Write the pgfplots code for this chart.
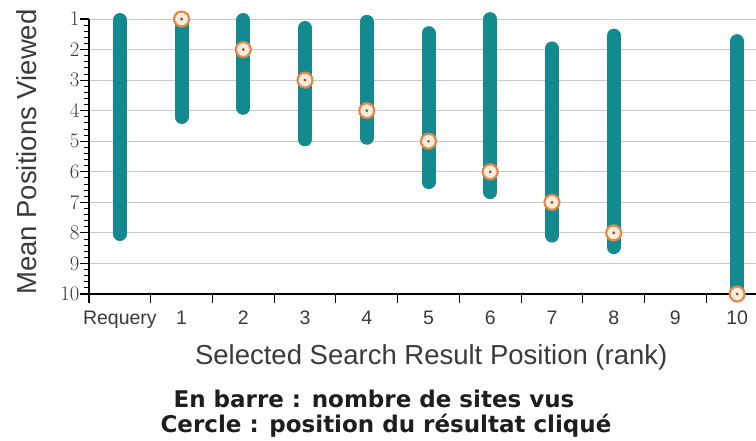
\documentclass[border=0pt]{standalone}
\usepackage{pgfplots}
\pgfplotsset{compat=1.18}
\usepackage{fontspec}
\setmainfont{Liberation Sans}
\newfontfamily\capfont{DejaVu Sans}
\definecolor{barteal}{HTML}{138A8F}
\definecolor{circedge}{HTML}{E0894A}
\definecolor{circfill}{HTML}{FBEBDC}
\definecolor{gridgray}{HTML}{C8C8C8}
\definecolor{labelgray}{HTML}{3A3A3A}
\definecolor{captext}{HTML}{1E1E1E}
\begin{document}
\begin{tikzpicture}
\useasboundingbox (-89pt,-146pt) rectangle (667pt,294pt);
\begin{axis}[
  at={(0,0)}, anchor=south west,
  scale only axis, width=679pt, height=275pt,
  xmin=-0.5, xmax=10.5, ymin=1, ymax=10,
  y dir=reverse, clip=false,
  axis x line*=bottom, axis y line*=left,
  axis line style={black, line width=1.3pt},
  tick align=outside, major tick length=9pt, minor tick length=5pt,
  every tick/.style={black, line width=1.1pt},
  every minor tick/.style={black, line width=1pt},
  xtick={-0.5,0.5,...,10.5}, xticklabels={},
  extra x ticks={0,1,...,10},
  extra x tick labels={Requery,1,2,3,4,5,6,7,8,9,10},
  extra x tick style={major tick length=0pt},
  ytick={1,...,10},
  minor ytick={1.2,1.4,1.6,1.8,2.2,2.4,2.6,2.8,3.2,3.4,3.6,3.8,4.2,4.4,4.6,4.8,5.2,5.4,5.6,5.8,6.2,6.4,6.6,6.8,7.2,7.4,7.6,7.8,8.2,8.4,8.6,8.8,9.2,9.4,9.6,9.8},
  ymajorgrids, major grid style={draw=gridgray, line width=1pt},
  xticklabel style={font=\fontsize{19.5}{20}\selectfont, text=labelgray, anchor=base, yshift=-30pt},
  yticklabel style={font=\fontsize{20.5}{21}\selectfont, text=labelgray, xshift=3pt},
  xlabel={Selected Search Result Position (rank)},
  xlabel style={at={(axis description cs:0.504,-0.258)}, anchor=base,
    font=\fontsize{27.5}{28}\selectfont, text=labelgray},
  ylabel={Mean Positions Viewed},
  ylabel style={at={(axis description cs:-0.0766,0.516)}, anchor=base,
    font=\fontsize{27.5}{28}\selectfont, text=labelgray},
  bar/.style={barteal, line width=14pt, line cap=round, shorten <=5pt, shorten >=5pt},
]
% bars: range of positions viewed
\addplot[bar] coordinates {(0,0.87) (0,8.2)};
\addplot[bar] coordinates {(1,1.0) (1,4.37)};
\addplot[bar] coordinates {(2,0.87) (2,4.07)};
\addplot[bar] coordinates {(3,1.13) (3,5.1)};
\addplot[bar] coordinates {(4,0.93) (4,5.05)};
\addplot[bar] coordinates {(5,1.3) (5,6.5)};
\addplot[bar] coordinates {(6,0.84) (6,6.83)};
\addplot[bar] coordinates {(7,1.8) (7,8.25)};
\addplot[bar] coordinates {(8,1.38) (8,8.63)};
\addplot[bar] coordinates {(10,1.56) (10,10)};
% circles: clicked result position
\addplot[only marks, mark=*, mark size=7.5pt,
  mark options={fill=circfill, draw=circedge, line width=2.2pt}]
  coordinates {(1,1) (2,2) (3,3) (4,4) (5,5) (6,6) (7,7) (8,8) (10,10)};
\addplot[only marks, mark=*, mark size=1.2pt, color=circedge!60!black]
  coordinates {(1,1) (2,2) (3,3) (4,4) (5,5) (6,6) (7,7) (8,8) (10,10)};
\end{axis}
\node[font=\capfont\bfseries\fontsize{23}{24}\selectfont, text=captext, anchor=base]
  at (285pt,-113pt) {En barre : nombre de sites vus};
\node[font=\capfont\bfseries\fontsize{23}{24}\selectfont, text=captext, anchor=base]
  at (297pt,-138pt) {Cercle : position du résultat cliqué};
\end{tikzpicture}
\end{document}
